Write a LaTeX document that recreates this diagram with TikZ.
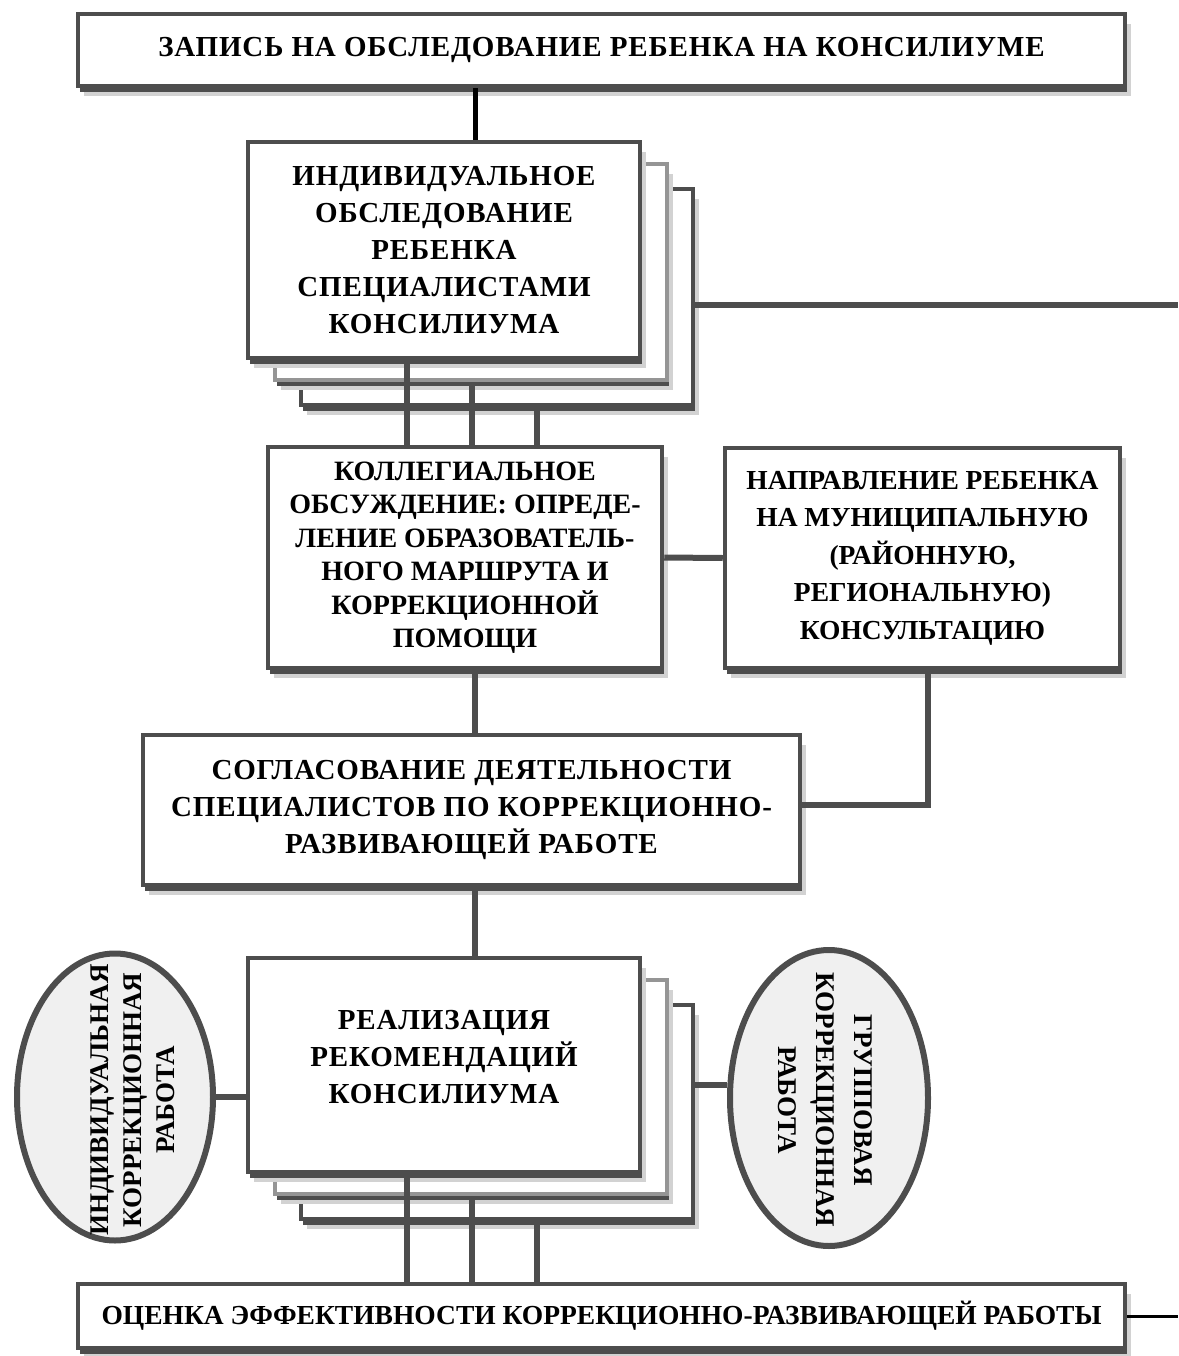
\documentclass[tikz,border=0pt]{standalone}
\usepackage{fontspec}
\setmainfont{Liberation Serif}
\newfontfamily\spfont[LetterSpace=3]{Liberation Serif}
\usetikzlibrary{shapes.geometric,shadows}
\definecolor{dg}{HTML}{4D4D4D}
\definecolor{mg}{HTML}{959595}
\definecolor{sh}{HTML}{D2D2D2}
\definecolor{ef}{HTML}{F0F0F0}
\begin{document}
\begin{tikzpicture}[x=1pt,y=-1pt,
  every node/.style={font=\bfseries\fontsize{27}{37}\selectfont, align=center, inner sep=0pt},
  bigtxt/.style={font=\spfont\bfseries\fontsize{29}{37}\selectfont},
  boxsty/.style={rectangle, draw=dg, line width=4.5pt, fill=white,
    general shadow={fill=sh, shadow xshift=6pt, shadow yshift=-10pt},
    general shadow={fill=dg, shadow xshift=2pt, shadow yshift=-6pt}},
  ellsty/.style={ellipse, draw=dg, line width=6pt, fill=ef},
  conn/.style={draw=dg, line width=6pt},
  thinconn/.style={draw=black, line width=3pt}
]
\useasboundingbox (0,0) rectangle (1178,1356);
\coordinate (spine) at (475,0);
\coordinate (v1) at (407,0);
\coordinate (v2) at (472,0);
\coordinate (v3) at (537,0);
\coordinate (redge) at (1178,0);
\coordinate (turn) at (928,805);

% top
\node[boxsty, bigtxt, minimum width=1047pt, minimum height=72pt] (top) at (601.5,50)
  {ЗАПИСЬ НА ОБСЛЕДОВАНИЕ РЕБЕНКА НА КОНСИЛИУМЕ};

% stack 1
\node[boxsty, minimum width=392pt, minimum height=216pt] (s1c) at (497,297) {};
\node[boxsty, draw=mg, minimum width=392pt, minimum height=216pt] (s1b) at (471,272) {};
\node[boxsty, bigtxt, minimum width=392pt, minimum height=216pt] (s1) at (444,250)
  {ИНДИВИДУАЛЬНОЕ\\ОБСЛЕДОВАНИЕ\\РЕБЕНКА\\СПЕЦИАЛИСТАМИ\\КОНСИЛИУМА};

% collegial + direction
\node[boxsty, minimum width=394pt, minimum height=221pt, font=\bfseries\fontsize{28}{33.5}\selectfont] (coll) at (465,557.5)
  {КОЛЛЕГИАЛЬНОЕ\\ОБСУЖДЕНИЕ: ОПРЕДЕ-\\ЛЕНИЕ ОБРАЗОВАТЕЛЬ-\\НОГО МАРШРУТА И\\КОРРЕКЦИОННОЙ\\ПОМОЩИ};
\node[boxsty, minimum width=395pt, minimum height=220pt, font=\bfseries\fontsize{27.5}{37.5}\selectfont] (dir) at (922.5,558)
  {НАПРАВЛЕНИЕ РЕБЕНКА\\НА МУНИЦИПАЛЬНУЮ\\(РАЙОННУЮ,\\РЕГИОНАЛЬНУЮ)\\КОНСУЛЬТАЦИЮ};

% coordination
\node[boxsty, bigtxt, minimum width=657pt, minimum height=150pt] (coord) at (471.5,810)
  {СОГЛАСОВАНИЕ ДЕЯТЕЛЬНОСТИ\\СПЕЦИАЛИСТОВ ПО КОРРЕКЦИОННО-\\РАЗВИВАЮЩЕЙ РАБОТЕ};

% stack 2
\node[boxsty, minimum width=392pt, minimum height=214pt] (s2c) at (497,1112) {};
\node[boxsty, draw=mg, minimum width=392pt, minimum height=214pt] (s2b) at (471,1087) {};
\node[boxsty, minimum width=392pt, minimum height=214pt] (s2) at (444,1065) {};
\node[bigtxt] (s2t) at (444,1057) {РЕАЛИЗАЦИЯ\\РЕКОМЕНДАЦИЙ\\КОНСИЛИУМА};

% ellipses
\node[ellsty, minimum width=196pt, minimum height=287pt] (elL) at (115,1097) {};
\node[rotate=90, font=\bfseries\fontsize{27}{33}\selectfont] (elLt) at (133,1100) {ИНДИВИДУАЛЬНАЯ\\КОРРЕКЦИОННАЯ\\РАБОТА};
\node[ellsty, minimum width=198pt, minimum height=296pt] (elR) at (829,1098) {};
\node[rotate=-90, font=\bfseries\fontsize{27}{38}\selectfont] (elRt) at (825,1100) {ГРУППОВАЯ\\КОРРЕКЦИОННАЯ\\РАБОТА};

% evaluation
\node[boxsty, minimum width=1047pt, minimum height=64pt, font=\bfseries\fontsize{27.5}{37}\selectfont] (eval) at (601.5,1316)
  {ОЦЕНКА ЭФФЕКТИВНОСТИ КОРРЕКЦИОННО-РАЗВИВАЮЩЕЙ РАБОТЫ};

% connectors
\draw[draw=black, line width=5pt] (top.south -| spine) -- (s1.north -| spine);
\draw[conn] (s1.south -| v1) -- (coll.north -| v1);
\draw[conn] (s1b.south -| v2) -- (coll.north -| v2);
\draw[conn] (s1c.south -| v3) -- (coll.north -| v3);
\draw[conn] ([yshift=-8pt]s1c.east) -- ([yshift=-8pt]s1c.east -| redge);
\draw[conn] (coll.east) -- (dir.west);
\draw[conn] (dir.south -| turn) -- (turn) -- (turn -| coord.east);
\draw[conn] (coll.south -| spine) -- (coord.north -| spine);
\draw[conn] (coord.south -| spine) -- (s2.north -| spine);
\draw[conn] (elL.east) -- (elL.east -| s2.west);
\draw[conn] ([yshift=13pt]elR.west -| s2c.east) -- ([yshift=13pt]elR.west);
\draw[conn] (s2.south -| v1) -- (eval.north -| v1);
\draw[conn] (s2b.south -| v2) -- (eval.north -| v2);
\draw[conn] (s2c.south -| v3) -- (eval.north -| v3);
\draw[thinconn] (eval.east) -- (eval.east -| redge);
\end{tikzpicture}
\end{document}
